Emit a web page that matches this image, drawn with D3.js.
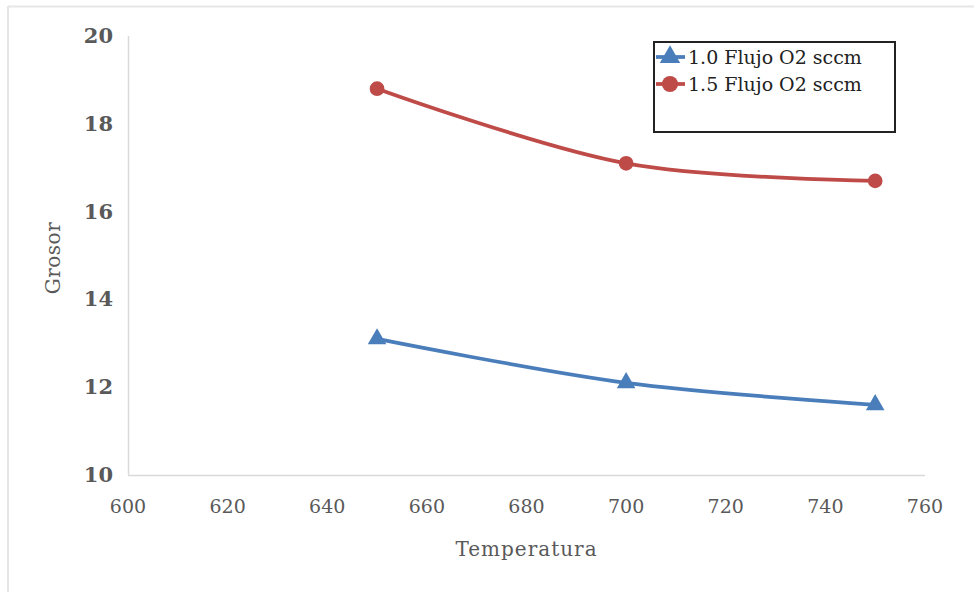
<!DOCTYPE html>
<html>
<head>
<meta charset="utf-8">
<script src="https://cdn.jsdelivr.net/npm/d3@7"></script>
<style>
  body { margin: 0; background: #fff; }
  svg { display: block; }
</style>
</head>
<body>
<div id="chart"></div>
<script>
// Chart data
const temperatures = [650, 700, 750];
const flujo10 = [13.1, 12.1, 11.6];
const flujo15 = [18.8, 17.1, 16.7];
const seriesNames = ['1.0 Flujo O2 sccm', '1.5 Flujo O2 sccm'];
const xTicks = [600, 620, 640, 660, 680, 700, 720, 740, 760];
const yTicks = [10, 12, 14, 16, 18, 20];

const width = 974, height = 592;
const margin = { left: 128, right: 49, top: 36, bottom: 117 };
const font = '"DejaVu Serif", "Liberation Serif", serif';

const svg = d3.select('#chart').append('svg')
    .attr('width', width)
    .attr('height', height);

// outer frame (top and left edges only visible)
svg.append('line')
    .attr('x1', 8).attr('y1', 6.5).attr('x2', 974).attr('y2', 6.5)
    .attr('stroke', '#e6e6e6').attr('stroke-width', 2);
svg.append('line')
    .attr('x1', 8).attr('y1', 6).attr('x2', 8).attr('y2', 592)
    .attr('stroke', '#e6e6e6').attr('stroke-width', 2);

const x = d3.scaleLinear().domain([600, 760]).range([margin.left, width - margin.right]);
const y = d3.scaleLinear().domain([10, 20]).range([height - margin.bottom, margin.top]);

// Axes lines
const axisG = svg.append('g').attr('class', 'axes');
axisG.append('line')
    .attr('x1', x(600)).attr('x2', x(760))
    .attr('y1', y(10) + 0.5).attr('y2', y(10) + 0.5)
    .attr('stroke', '#d9d9d9').attr('stroke-width', 1.5);
axisG.append('line')
    .attr('x1', x(600) + 0.5).attr('x2', x(600) + 0.5)
    .attr('y1', y(20)).attr('y2', y(10))
    .attr('stroke', '#d9d9d9').attr('stroke-width', 1.5);

// Y tick labels (bold)
axisG.selectAll('.ytick')
    .data(yTicks)
    .enter()
    .append('text')
    .attr('class', 'ytick')
    .attr('x', x(600) - 15)
    .attr('y', d => y(d) + 7)
    .attr('text-anchor', 'end')
    .attr('font-family', font)
    .attr('font-weight', 'bold')
    .attr('font-size', '21px')
    .attr('fill', '#595959')
    .text(d => d);

// X tick labels
axisG.selectAll('.xtick')
    .data(xTicks)
    .enter()
    .append('text')
    .attr('class', 'xtick')
    .attr('x', d => x(d))
    .attr('y', y(10) + 38)
    .attr('text-anchor', 'middle')
    .attr('font-family', font)
    .attr('font-size', '19px')
    .attr('fill', '#595959')
    .text(d => d);

// Axis titles
svg.append('text')
    .attr('x', (x(600) + x(760)) / 2)
    .attr('y', 556)
    .attr('text-anchor', 'middle')
    .attr('font-family', font)
    .attr('font-size', '20px')
    .attr('letter-spacing', '1px')
    .attr('fill', '#595959')
    .text('Temperatura');

svg.append('text')
    .attr('transform', `translate(60, ${258}) rotate(-90)`)
    .attr('text-anchor', 'middle')
    .attr('font-family', font)
    .attr('font-size', '20px')
    .attr('letter-spacing', '0.5px')
    .attr('fill', '#595959')
    .text('Grosor');

// Series
const series = [
    { name: seriesNames[0], values: flujo10, color: '#4a7ebb', symbol: d3.symbolTriangle, size: 150 },
    { name: seriesNames[1], values: flujo15, color: '#be4b48', symbol: d3.symbolCircle, size: 170 }
];

const line = d3.line()
    .x((d, i) => x(temperatures[i]))
    .y(d => y(d))
    .curve(d3.curveCatmullRom.alpha(0.5));

series.forEach(s => {
    const g = svg.append('g').attr('class', 'series');
    g.append('path')
        .attr('d', line(s.values))
        .attr('fill', 'none')
        .attr('stroke', s.color)
        .attr('stroke-width', 3.75)
        .attr('stroke-linecap', 'round');
    g.selectAll('.marker')
        .data(s.values)
        .enter()
        .append('path')
        .attr('class', 'marker')
        .attr('transform', (d, i) => `translate(${x(temperatures[i])},${y(d)})`)
        .attr('d', d3.symbol().type(s.symbol).size(s.size))
        .attr('fill', s.color);
});

// Legend
const legend = svg.append('g').attr('class', 'legend');
legend.append('rect')
    .attr('x', 654).attr('y', 42)
    .attr('width', 241).attr('height', 90)
    .attr('fill', '#fff')
    .attr('stroke', '#222')
    .attr('stroke-width', 2);

series.forEach((s, i) => {
    const ly = 57 + i * 27;
    legend.append('line')
        .attr('x1', 656).attr('x2', 685)
        .attr('y1', ly).attr('y2', ly)
        .attr('stroke', s.color).attr('stroke-width', 3.75);
    legend.append('path')
        .attr('transform', `translate(670,${ly})`)
        .attr('d', d3.symbol().type(s.symbol).size(s.size * 1.2))
        .attr('fill', s.color);
    legend.append('text')
        .attr('x', 688)
        .attr('y', ly + 7)
        .attr('font-family', font)
        .attr('font-size', '19px')
        .attr('fill', '#222')
        .text(s.name);
});
</script>
</body>
</html>
